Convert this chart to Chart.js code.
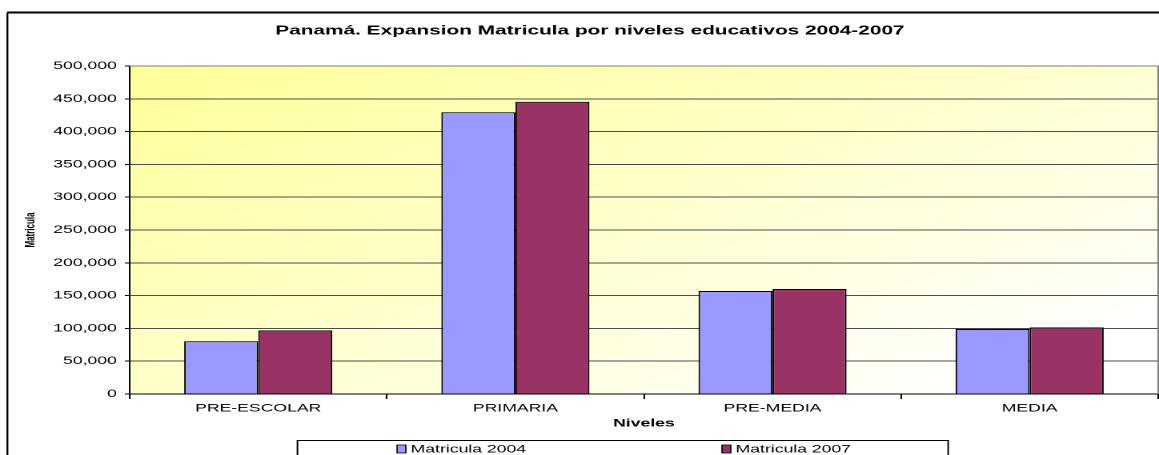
<!DOCTYPE html>
<html lang="es">
<head>
<meta charset="utf-8">
<title>Panamá. Expansion Matricula</title>
<script src="https://cdn.jsdelivr.net/npm/chart.js@4/dist/chart.umd.min.js"></script>
<style>
  html, body { margin: 0; padding: 0; background: #fff; }
  #grafico { display: block; }
</style>
</head>
<body>
<canvas id="grafico" width="724" height="455" style="width:1159px;height:455px"></canvas>
<script>
const titulo = "Panamá. Expansion Matricula por niveles educativos 2004-2007";
const niveles = ["PRE-ESCOLAR", "PRIMARIA", "PRE-MEDIA", "MEDIA"];
const series = ["Matricula 2004", "Matricula 2007"];
const matricula2004 = [80500, 429500, 157000, 99000];
const matricula2007 = [97000, 445500, 160000, 101500];
const colores = ["#9999FF", "#993366"];

document.addEventListener("DOMContentLoaded", () => {
  Chart.defaults.font.family = "'Liberation Sans', Arial, sans-serif";
  Chart.defaults.color = "#000";

  // fondo, marco, titulo y leyenda (el lienzo se estira 1.6x en horizontal, como el original)
  const decorado = {
    id: "decorado",
    beforeDraw(chart) {
      const { ctx, chartArea: a } = chart;
      ctx.save();
      ctx.fillStyle = "#fff";
      ctx.fillRect(0, 0, chart.width, chart.height);
      const g = ctx.createLinearGradient(a.left, a.top, a.left + 280, a.bottom + 140);
      g.addColorStop(0, "#FFFF99");
      g.addColorStop(0.45, "#FFFFC4");
      g.addColorStop(1, "#FFFFFF");
      ctx.fillStyle = g;
      ctx.fillRect(a.left, a.top, a.right - a.left, a.bottom - a.top);
      ctx.restore();
    },
    afterDraw(chart) {
      const { ctx, chartArea: a } = chart;
      ctx.save();
      // borde del area de trazado
      ctx.strokeStyle = "#808080";
      ctx.lineWidth = 1;
      ctx.beginPath();
      ctx.moveTo(a.left, a.top);
      ctx.lineTo(a.right, a.top);
      ctx.lineTo(a.right, a.bottom);
      ctx.stroke();

      // marco exterior
      ctx.strokeStyle = "#000";
      ctx.lineWidth = 2;
      ctx.beginPath();
      ctx.moveTo(4.5, 12.5);
      ctx.lineTo(chart.width + 5, 12.5);
      ctx.stroke();
      ctx.lineWidth = 1.2;
      ctx.beginPath();
      ctx.moveTo(4.6, 12.5);
      ctx.lineTo(4.6, chart.height + 5);
      ctx.stroke();

      // titulo
      ctx.fillStyle = "#000";
      ctx.font = "bold 13px 'Liberation Sans', Arial, sans-serif";
      ctx.textAlign = "center";
      ctx.textBaseline = "middle";
      ctx.fillText(titulo, 368.5, 31);

      // leyenda
      ctx.strokeStyle = "#000";
      ctx.lineWidth = 1;
      ctx.strokeRect(185.8, 440.5, 406.5, 30);
      const posX = [248, 451];
      ctx.font = "11px 'Liberation Sans', Arial, sans-serif";
      ctx.textAlign = "left";
      series.forEach((s, i) => {
        ctx.fillStyle = colores[i];
        ctx.fillRect(posX[i], 445, 5.5, 8);
        ctx.lineWidth = 0.8;
        ctx.strokeRect(posX[i], 445, 5.5, 8);
        ctx.fillStyle = "#000";
        ctx.fillText(s, posX[i] + 8.5, 449.5);
      });
      ctx.restore();
    }
  };

  new Chart(document.getElementById("grafico"), {
    type: "bar",
    data: {
      labels: niveles,
      datasets: [
        { label: series[0], data: matricula2004, backgroundColor: colores[0], borderColor: "#000", borderWidth: 1 },
        { label: series[1], data: matricula2007, backgroundColor: colores[1], borderColor: "#000", borderWidth: 1 }
      ]
    },
    options: {
      responsive: false,
      devicePixelRatio: 2,
      animation: false,
      categoryPercentage: 0.576,
      barPercentage: 1,
      layout: { padding: { top: 66, right: 0.5, left: 0, bottom: 0 } },
      plugins: {
        legend: { display: false },
        title: { display: false },
        tooltip: { enabled: false }
      },
      scales: {
        x: {
          grid: { drawOnChartArea: false, tickLength: 5, tickColor: "#000", offset: true },
          border: { color: "#000" },
          ticks: { font: { size: 11 }, padding: 3, maxRotation: 0 },
          title: { display: true, text: "Niveles", font: { size: 11, weight: "bold" }, padding: { top: 0, bottom: 25 } },
          afterFit: s => { s.height = 61; }
        },
        y: {
          min: 0,
          max: 500000,
          grid: { color: "#4d4d4d", tickLength: 3, tickColor: "#000" },
          border: { color: "#000" },
          ticks: {
            stepSize: 50000,
            font: { size: 11 },
            padding: 5,
            callback: v => v.toLocaleString("en-US")
          },
          title: { display: true, text: "Matricula", font: { size: 8, weight: "bold" }, padding: { top: 14.5, bottom: 0 } },
          afterFit: s => { s.width = 81; }
        }
      }
    },
    plugins: [decorado]
  });
});
</script>
</body>
</html>
